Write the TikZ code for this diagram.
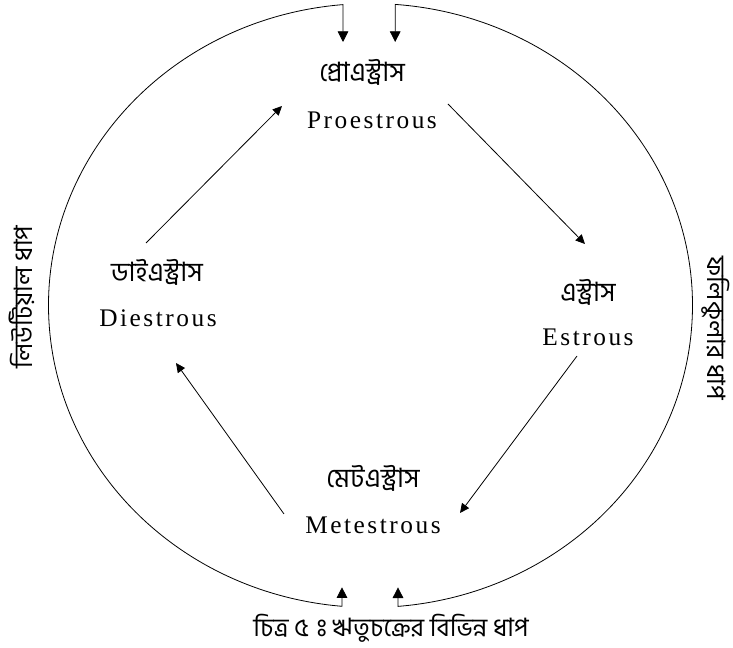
\documentclass[tikz,border=0pt]{standalone}
\usepackage{fontspec}
\setmainfont{Liberation Serif}
\newfontfamily\bnfont[Script=Bengali]{Hind Siliguri}
\newfontfamily\bnsign[Script=Latin]{Hind Siliguri}
\usetikzlibrary{positioning, arrows.meta, calc}

\begin{document}
\begin{tikzpicture}[
    x=0.75pt, y=-0.75pt,
    bn/.style={font=\bnfont\fontsize{20}{22}\selectfont, inner sep=1pt},
    side/.style={font=\bnfont\fontsize{19}{22}\selectfont, inner sep=1pt},
    captxt/.style={font=\bnfont\fontsize{19}{22}\selectfont, inner sep=1pt},
    en/.style={font=\addfontfeatures{LetterSpace=10}\fontsize{19}{22}\selectfont, inner sep=1pt},
    arr/.style={-{Triangle[length=7pt, width=6.5pt]}, line width=0.6pt},
    cyc/.style={{Triangle[length=8pt, width=8pt]}-{Triangle[length=8pt, width=8pt]}, line width=0.6pt}
]
    \useasboundingbox (0,0) rectangle (733,648);

    % the four stages
    \node[bn] (proB) at (362,72) {প্রোএস্ট্রাস};
    \node[en] (proE) at (372,120) {Proestrous};
    \node[bn] (estB) at (588,292) {এস্ট্রাস};
    \node[en] (estE) at (588,337) {Estrous};
    \node[bn] (metB) at (373,478) {মেটএস্ট্রাস};
    \node[en] (metE) at (373,525) {Metestrous};
    \node[bn] (dieB) at (157,272) {ডাইএস্ট্রাস};
    \node[en] (dieE) at (158,318) {Diestrous};

    \draw[arr] ([shift={(-11,-29)}]dieB.center) -- ([shift={(-90,-14)}]proE.center);
    \draw[arr] ([shift={(76,-16)}]proE.center) -- ([shift={(-3,-48)}]estB.center);
    \draw[arr] ([shift={(-11,19)}]estE.center) -- ([shift={(87,-12)}]metE.center);
    \draw[arr] ([shift={(-89,-11)}]metE.center) -- ([shift={(18,45)}]dieE.center);

    % the cycle
    \coordinate (ctr) at (370.5,305.5);
    \coordinate (topL) at ($(ctr)+(265.1:322 and 302)$);
    \coordinate (topR) at ($(ctr)+(274.4:322 and 302)$);
    \draw[cyc] (topL |- 0,42) -- (topL)
        arc[start angle=265.1, end angle=95.08, x radius=322, y radius=302] -- ++(0,-19);
    \draw[cyc] (topR |- 0,42) -- (topR)
        arc[start angle=274.4, end angle=445.1, x radius=322, y radius=302] -- ++(0,-19);

    \node[side, rotate=90] (lut) at (22,297) {লিউটিয়াল ধাপ};
    \node[side, rotate=-90] (fol) at (716,328) {ফলিকুলার ধাপ};
    \node[captxt] (capt) at (391,628) {চিত্র {\bnsign\addfontfeatures{LetterSpace=30}৫ঃ} ঋতুচক্রের বিভিন্ন ধাপ};
\end{tikzpicture}
\end{document}
